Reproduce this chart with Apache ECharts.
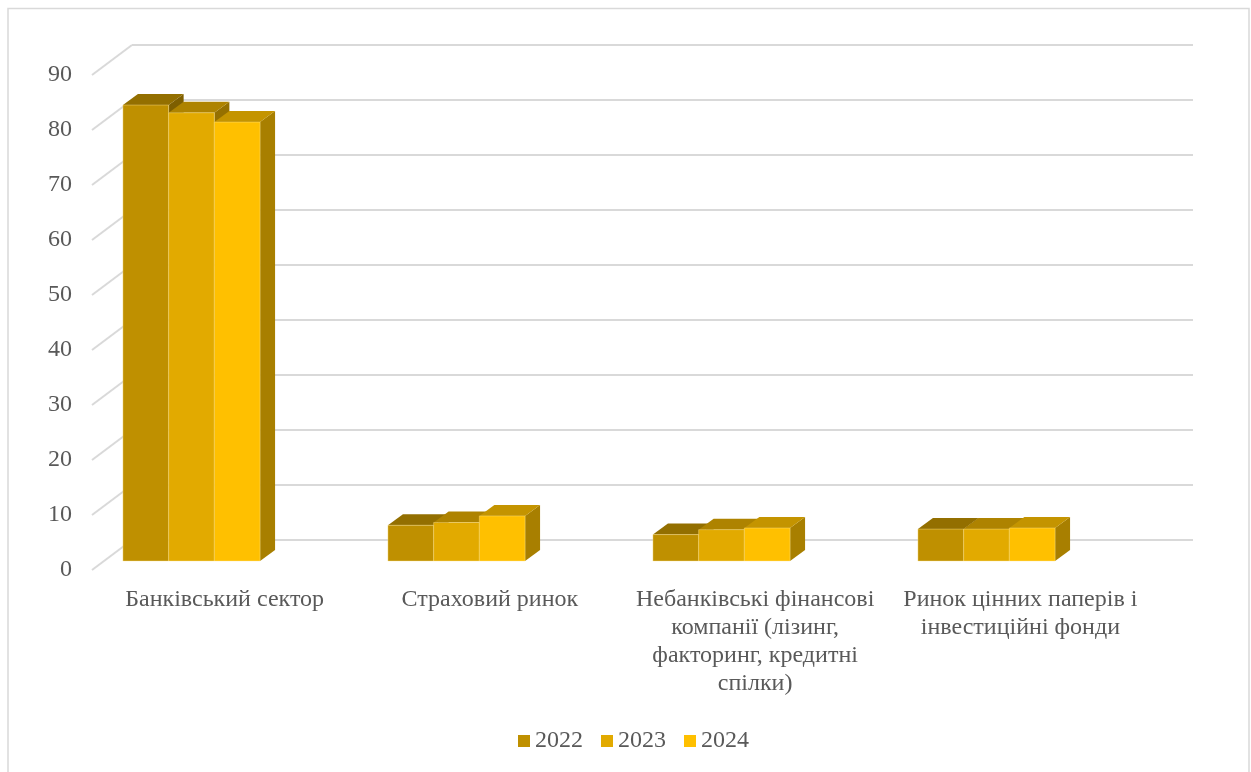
<!DOCTYPE html>
<html>
<head>
<meta charset="utf-8">
<script src="https://cdn.jsdelivr.net/npm/echarts@6/dist/echarts.min.js"></script>
<style>
html,body{margin:0;padding:0;background:#fff;}
#chart{width:1251px;height:772px;}
</style>
</head>
<body>
<div id="chart"></div>
<script>
// ---- data ----
const categories = [
  'Банківський сектор',
  'Страховий ринок',
  'Небанківські фінансові\nкомпанії (лізинг,\nфакторинг, кредитні\nспілки)',
  'Ринок цінних паперів і\nінвестиційні фонди'
];
const years = ['2022', '2023', '2024'];
const values2022 = [82.9, 6.5, 4.8, 5.8];
const values2023 = [81.5, 7.0, 5.7, 5.8];
const values2024 = [79.8, 8.2, 6.0, 6.0];
const yTicks = [0, 10, 20, 30, 40, 50, 60, 70, 80, 90];

// ---- style ----
const colors = ['#BF9000', '#E2AA00', '#FFC000'];
const FONT = '"Liberation Serif", "Times New Roman", serif';
const TEXT = '#595959';
const GRIDC = '#d9d9d9';
const WALL_DX = 40, WALL_DY = -30;   // front -> back wall offset
const BAR_DX = 15, BAR_DY = -11;     // bar depth
const BAR_FRAC = 0.1725;             // bar width as share of band

function shade(hex, f) {
  const n = parseInt(hex.slice(1), 16);
  const r = Math.round(((n >> 16) & 255) * f);
  const g = Math.round(((n >> 8) & 255) * f);
  const b = Math.round((n & 255) * f);
  return 'rgb(' + r + ',' + g + ',' + b + ')';
}

function barRenderer(idx) {
  const c = colors[idx];
  return function (params, api) {
    const cat = api.value(0), v = api.value(1);
    const p = api.coord([cat, v]);
    const p0 = api.coord([cat, 0]);
    const band = api.size([1, 0])[0];
    const w = band * BAR_FRAC;
    const x = p[0] + (idx - 1) * w - w / 2;
    const yt = p[1], yb = p0[1];
    return {
      type: 'group',
      children: [
        { type: 'polygon', shape: { points: [[x + w, yt], [x + w + BAR_DX, yt + BAR_DY], [x + w + BAR_DX, yb + BAR_DY], [x + w, yb]] },
          style: { fill: shade(c, 0.66) } },
        { type: 'polygon', shape: { points: [[x, yt], [x + BAR_DX, yt + BAR_DY], [x + w + BAR_DX, yt + BAR_DY], [x + w, yt]] },
          style: { fill: shade(c, 0.77) } },
        { type: 'rect', shape: { x: x, y: yt, width: w, height: yb - yt },
          style: { fill: c, stroke: 'rgba(255,230,150,0.5)', lineWidth: 0.8 } }
      ]
    };
  };
}

const seriesValues = [values2022, values2023, values2024];

const chart = echarts.init(document.getElementById('chart'), null, { renderer: 'canvas' });
chart.setOption({
  animation: false,
  backgroundColor: '#ffffff',
  graphic: [{
    type: 'rect', shape: { x: 8, y: 8.5, width: 1241, height: 800 },
    style: { fill: 'none', stroke: GRIDC, lineWidth: 1.5 }, silent: true, z: -10
  }],
  legend: {
    data: years, top: 729, left: 518, icon: 'rect', padding: 0,
    itemWidth: 12, itemHeight: 12, itemGap: 18,
    textStyle: { fontFamily: FONT, fontSize: 24, color: TEXT }
  },
  grid: [
    { left: 92, right: 98, top: 75, bottom: 202 },   // front plane
    { left: 132, right: 58, top: 45, bottom: 232 },  // back wall
    { left: 59, right: 132, top: 66, bottom: 211 }   // bar front faces
  ],
  xAxis: [
    { gridIndex: 0, type: 'category', data: categories,
      axisLine: { show: false }, axisTick: { show: false },
      axisLabel: { interval: 0, margin: 16, fontFamily: FONT, fontSize: 24, lineHeight: 28, color: TEXT, align: 'center' } },
    { gridIndex: 1, type: 'category', data: categories, show: false },
    { gridIndex: 2, type: 'category', data: categories, show: false }
  ],
  yAxis: [
    { gridIndex: 0, type: 'value', min: 0, max: 90, interval: 10,
      axisLine: { show: false }, axisTick: { show: false }, splitLine: { show: false },
      axisLabel: { margin: 20, fontFamily: FONT, fontSize: 24, color: TEXT } },
    { gridIndex: 1, type: 'value', min: 0, max: 90, interval: 10,
      axisLine: { show: false }, axisTick: { show: false }, axisLabel: { show: false },
      splitLine: { show: true, lineStyle: { color: GRIDC, width: 2 } } },
    { gridIndex: 2, type: 'value', min: 0, max: 90, interval: 10, show: false }
  ],
  series: [
    {
      type: 'custom', name: 'walls', xAxisIndex: 0, yAxisIndex: 0, silent: true,
      data: yTicks.map(v => [0, v]),
      renderItem: function (params, api) {
        const p = api.coord([0, api.value(1)]);
        const band = api.size([1, 0])[0];
        const x = p[0] - band / 2;
        return { type: 'line', shape: { x1: x, y1: p[1], x2: x + WALL_DX, y2: p[1] + WALL_DY },
          style: { stroke: GRIDC, lineWidth: 2 } };
      }
    }
  ].concat(years.map((y, i) => ({
    type: 'custom', name: y, xAxisIndex: 2, yAxisIndex: 2,
    itemStyle: { color: colors[i] },
    data: seriesValues[i].map((v, k) => [k, v]),
    renderItem: barRenderer(i)
  })))
});
</script>
</body>
</html>
